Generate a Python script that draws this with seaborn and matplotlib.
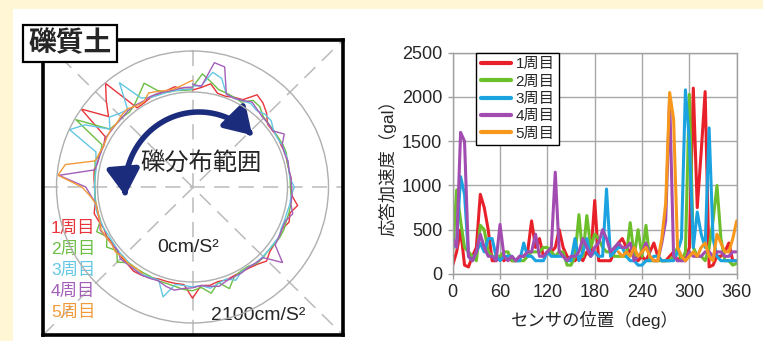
import numpy as np
import pandas as pd
import matplotlib
matplotlib.use("Agg")
import matplotlib.pyplot as plt
from matplotlib.patches import Rectangle, FancyArrowPatch
from matplotlib.path import Path
import seaborn as sns

# sensor position (deg) and response acceleration (gal) per lap
angles = list(range(0, 361, 5))
laps = ["1周目", "2周目", "3周目", "4周目", "5周目"]

lap1 = [100, 250, 500, 100, 80, 200, 300, 900, 750, 500, 150, 150,
        200, 150, 200, 150, 150, 200, 200, 250, 600, 300, 400, 200,
        250, 250, 300, 500, 300, 200, 150, 150, 200, 150, 250, 200,
        830, 150, 150, 150, 150, 250, 350, 400, 300, 250, 200, 150,
        200, 150, 250, 350, 200, 150, 150, 200, 250, 150, 200, 150,
        300, 2100, 750, 1380, 2060, 80, 100, 200, 200, 250, 350, 150,
        150]
lap2 = [250, 950, 600, 300, 250, 200, 150, 550, 500, 250, 200, 200,
        200, 250, 250, 150, 150, 150, 150, 200, 250, 250, 250, 300,
        300, 250, 200, 250, 250, 100, 100, 200, 670, 200, 660, 300,
        450, 400, 300, 250, 250, 200, 200, 200, 200, 580, 200, 500,
        200, 550, 150, 150, 150, 150, 150, 150, 200, 300, 150, 250,
        2030, 300, 200, 200, 150, 300, 600, 1000, 400, 150, 150, 100,
        120]
lap3 = [300, 350, 1100, 900, 200, 150, 250, 350, 250, 400, 400, 200,
        150, 200, 200, 200, 150, 150, 350, 200, 200, 150, 150, 150,
        250, 200, 200, 200, 200, 150, 150, 400, 150, 250, 400, 200,
        250, 200, 200, 960, 200, 250, 300, 300, 200, 150, 150, 100,
        100, 150, 150, 200, 200, 150, 150, 150, 150, 250, 400, 2080,
        1500, 300, 700, 450, 300, 1650, 400, 200, 150, 150, 150, 150,
        150]
lap4 = [400, 300, 1600, 1500, 200, 150, 250, 450, 300, 200, 200, 150,
        560, 200, 150, 200, 150, 200, 200, 250, 250, 450, 200, 200,
        250, 300, 1150, 250, 200, 150, 200, 200, 250, 400, 300, 200,
        300, 350, 500, 400, 250, 300, 350, 300, 300, 350, 150, 200,
        250, 350, 200, 150, 150, 350, 600, 2000, 200, 150, 150, 150,
        250, 200, 200, 200, 250, 250, 200, 250, 250, 200, 200, 250,
        250]
lap5 = [np.nan] * 42 + [
        250, 200, 250, 200, 300, 200,
        250, 300, 200, 150, 150, 400, 800, 2050, 1750, 300, 200, 150,
        200, 250, 200, 300, 350, 200, 150, 450, 350, 250, 250, 400,
        600]

line_colors = ["#E8202A", "#6CBF2A", "#1AA3E0", "#A24BB0", "#F7981D"]
polar_colors = ["#E8343A", "#6DBE45", "#63C7E3", "#A35FB8", "#F29A3A"]

df = pd.DataFrame({
    "angle": angles * 5,
    "acc": lap1 + lap2 + lap3 + lap4 + lap5,
    "lap": np.repeat(laps, len(angles)),
})
df["theta"] = np.deg2rad(df["angle"])

sns.set_style("white")
plt.rcParams["font.family"] = ["Liberation Sans", "Noto Sans CJK JP", "DejaVu Sans"]

W, H = 763, 341
fig = plt.figure(figsize=(W / 100, H / 100), dpi=100)
fig.patch.set_facecolor("#FFF6D5")
fig.add_artist(Rectangle((13 / W, 0), 750 / W, 332 / H, transform=fig.transFigure,
                         facecolor="white", edgecolor="none", zorder=-5))

# ---- left panel: square frame with dashed guides ----
fax = fig.add_axes([43 / W, 6 / H, 300 / W, 295 / H])
fax.set_xlim(0, 300)
fax.set_ylim(0, 295)
fax.set_xticks([])
fax.set_yticks([])
fax.set_facecolor("white")
for s in fax.spines.values():
    s.set_linewidth(2.6)
    s.set_color("black")
cx, cy = 149.5, 148
dash = dict(color="#BBBBBB", lw=1.1, dashes=(10, 6))
fax.axhline(cy, **dash)
fax.axvline(cx, **dash)
fax.plot([0, 300], [0, 295], **dash)
fax.plot([0, 300], [295, 0], **dash)

# curved arrow
t = np.deg2rad(np.linspace(186, 44, 60))
verts = np.column_stack([156 + 74 * np.cos(t), 147 + 76 * np.sin(t)])
arrow = FancyArrowPatch(path=Path(verts), arrowstyle="<|-|>,head_length=0.8,head_width=0.5",
                        mutation_scale=20, lw=4.0, color="#1B2C7C",
                        transform=fax.transData, zorder=5)
fax.add_patch(arrow)
fax.text(158, 172, "礫分布範囲", fontsize=17.5, ha="center", va="center", zorder=6)
fax.text(145, 87, "0cm/S²", fontsize=14, ha="center", va="center", zorder=6)
fax.text(215, 20, "2100cm/S²", fontsize=14, ha="center", va="center", zorder=6)
for i, (lab, c) in enumerate(zip(laps, polar_colors)):
    fax.text(8, 335 - 228 - 21 * i, lab, fontsize=12.5, color=c, ha="left", va="center", zorder=6)

# polar traces
pax = fig.add_axes([56.5 / W, 18 / H, 272 / W, 272 / H], projection="polar")
pax.set_facecolor("none")
pax.set_theta_zero_location("N")
pax.set_theta_direction(-1)
sns.lineplot(data=df, x="theta", y="acc", hue="lap", palette=polar_colors,
             estimator=None, lw=1.0, legend=False, ax=pax)
pax.set_ylim(0, 2100)
pax.set_rorigin(-4865)
pax.set_xticks([])
pax.set_yticks([])
pax.grid(False)
for s in pax.spines.values():
    s.set_color("#AFAFAF")
    s.set_linewidth(1.0)
pax.set_xlabel("")
pax.set_ylabel("")

fig.text(70 / W, 1 - 43.5 / H, "礫質土", fontsize=20, fontweight="bold", ha="center", va="center",
         bbox=dict(boxstyle="square,pad=0.2", facecolor="white", edgecolor="black", lw=1.6))

# ---- right panel: acceleration vs sensor position ----
ax = fig.add_axes([452.7 / W, 67 / H, 284 / W, 221.3 / H])
sns.lineplot(data=df, x="angle", y="acc", hue="lap", palette=line_colors,
             estimator=None, lw=2.2, ax=ax)
ax.set_xlim(0, 360)
ax.set_ylim(0, 2500)
ax.set_xticks(range(0, 361, 60))
ax.set_yticks(range(0, 2501, 500))
ax.grid(True, color="#A8A8A8", lw=1.0)
for s in ax.spines.values():
    s.set_color("#A0A0A0")
    s.set_linewidth(1.0)
ax.tick_params(axis="both", labelsize=13, length=3.5, width=1, color="#A0A0A0",
               direction="out", pad=4, left=True, bottom=True)
ax.set_xlabel("センサの位置（deg）", fontsize=12.5, labelpad=7)
ax.set_ylabel("応答加速度（gal）", fontsize=12.5, labelpad=4)
leg = ax.legend(loc="upper left", bbox_to_anchor=(0.082, 1.0), borderaxespad=0,
                frameon=True, fancybox=False, edgecolor="black", framealpha=1,
                fontsize=11, handlelength=2.0, handletextpad=0.3, labelspacing=0.22,
                borderpad=0.3)
leg.get_frame().set_linewidth(1.0)
for ln in leg.get_lines():
    ln.set_linewidth(3)

fig.savefig("out.png", dpi=100, facecolor=fig.get_facecolor())
